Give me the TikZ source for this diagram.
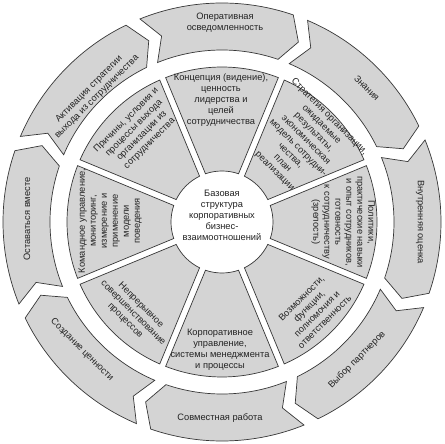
\documentclass[tikz,border=0pt]{standalone}
\usepackage{fontspec}
\setmainfont{Liberation Sans}
\definecolor{shapefill}{RGB}{212,212,212}
\definecolor{edge}{RGB}{55,55,55}
\definecolor{txt}{RGB}{35,35,35}
\begin{document}
\begin{tikzpicture}[x=1pt,y=1pt,
  shapestyle/.style={fill=shapefill,draw=edge,line width=0.7pt,line join=miter},
  lbl/.style={text=txt,font=\fontsize{9.3}{11}\selectfont,align=center,inner sep=0pt}]
\fill[white] (-222,-222) rectangle (223,222);
\useasboundingbox (-222,-222) rectangle (223,222);
% outer ring of clockwise arrows
\foreach \c in {90,45,0,-45,-90,-135,180,135}{
  \draw[shapestyle] ({\c+22}:219) arc[start angle=\c+22,end angle=\c-19,radius=219]
    -- ({\c-23}:195.5) -- ({\c-19}:172)
    arc[start angle=\c-19,end angle=\c+22,radius=172]
    -- ({\c+18}:195.5) -- cycle;
}
% inner sectors
\foreach \c in {90,45,0,-45,-90,-135,180,135}{
  \draw[shapestyle] ({\c-21.32}:155) arc[start angle=\c-21.32,end angle=\c+21.32,radius=155]
    -- ({\c+18.9}:51) arc[start angle=\c+18.9,end angle=\c-18.9,radius=51] -- cycle;
}
% centre
\node[lbl] (core) at (0,7) {Базовая\\структура\\корпоративных\\бизнес-\\взаимоотношений};
% inner sector texts
\node[lbl] (s90) at (-1,122) {Концепция (видение),\\ценность\\лидерства и\\целей\\сотрудничества};
\node[lbl,rotate=-45] (s45) at (80,78) {Стратегия организации,\\ожидаемые\\результаты,\\экономическая\\модель сотрудни-\\чества,\\план\\реализации};
\node[lbl,rotate=-90] (s0) at (121,0) {Политики,\\практические навыки\\и опыт сотрудников,\\готовность\\к сотрудничеству\\(зрелость)};
\node[lbl,rotate=45] (sm45) at (91,-88) {Возможности,\\функции,\\полномочия и\\ответственность};
\node[lbl] (sm90) at (-2,-128) {Корпоративное\\управление,\\системы менеджмента\\и процессы};
\node[lbl,rotate=-45] (sm135) at (-89,-91) {Непрерывное\\совершенствование\\процессов};
\node[lbl,rotate=90] (s180) at (-112,1) {Командное управление,\\мониторинг,\\измерение и\\применение\\модели\\поведения};
\node[lbl,rotate=45] (s135) at (-84,90) {Причины, условия и\\процессы выхода\\организации из\\сотрудничества};
% outer arrow texts
\node[lbl] (a90) at (3,199) {Оперативная\\осведомленность};
\node[lbl,rotate=-45] (a45) at (145,134) {Знания};
\node[lbl,rotate=-90] (a0) at (198,0) {Внутренняя оценка};
\node[lbl,rotate=45] (am45) at (135,-138) {Выбор партнеров};
\node[lbl] (am90) at (-2,-196) {Совместная работа};
\node[lbl,rotate=-45] (am135) at (-140,-128) {Создание ценности};
\node[lbl,rotate=90] (a180) at (-195,3) {Оставаться вместе};
\node[lbl,rotate=45] (a135) at (-129,129) {Активация стратегии\\выхода из сотрудничества};
\end{tikzpicture}
\end{document}
